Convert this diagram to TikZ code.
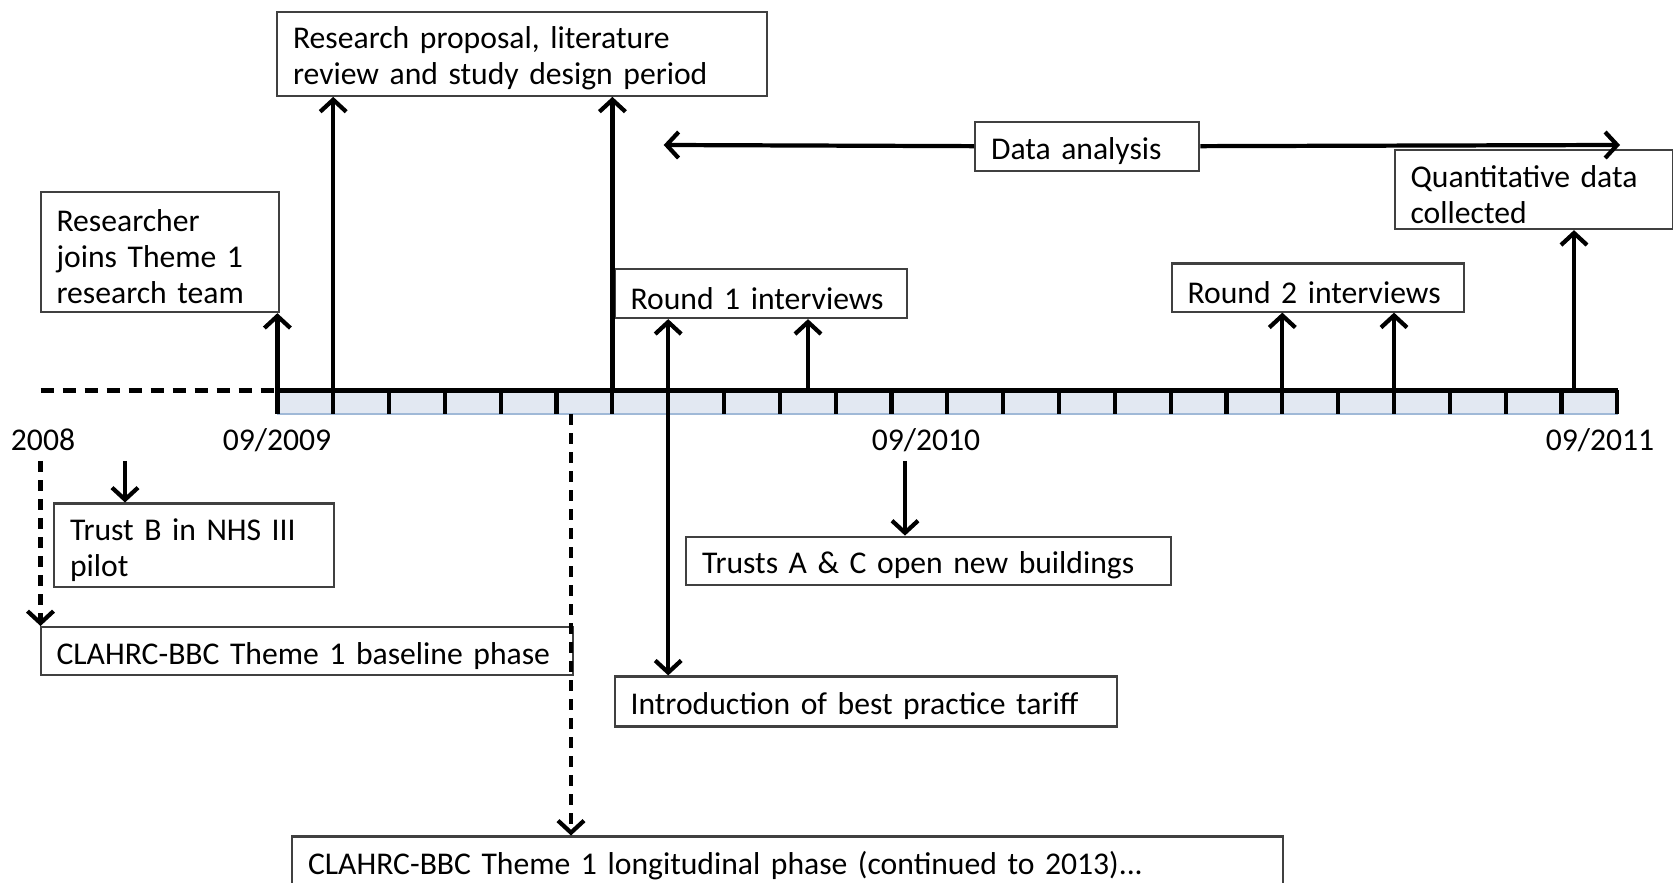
\documentclass[tikz,border=0pt]{standalone}
\usepackage{fontspec}
\setmainfont{Carlito}
\usetikzlibrary{arrows.meta}

\definecolor{axisfill}{RGB}{226,232,242}
\definecolor{axisline}{RGB}{160,185,215}

\begin{document}
\begin{tikzpicture}[x=0.01cm,y=-0.01cm]
        \tikzstyle{every node}+=[inner sep=0pt, font=\fontsize{9}{10.2}\selectfont]
        \tikzstyle{event}=[draw=black!75, line width=0.6pt, anchor=north west, align=left, inner xsep=0.16cm, execute at begin node={\rule{0pt}{9pt}}]
        \tikzstyle{link}=[line width=1.2pt, -{Straight Barb[length=1.2mm,width=2.6mm]}]
        \tikzstyle{twoway}=[line width=1.2pt, {Straight Barb[length=1.2mm,width=2.6mm]}-{Straight Barb[length=1.2mm,width=2.6mm]}]
        \tikzstyle{phase}=[link, dash pattern=on 1.1mm off 0.8mm]
        \clip (0,0) rectangle (1673,883);
        \fill [axisfill] (277.4,390.5) rectangle (1617.6,414);
        \draw [axisline, line width=0.7pt] (277.4,414) -- (1617.6,414);
        \draw [black, line width=1.6pt] (277.4,390.5) -- (1617.6,390.5);
        \draw [black, line width=1.5pt, dash pattern=on 1.3mm off 0.9mm] (40.5,390.5) -- (277.4,390.5);
        \foreach \i in {0,...,24}
            \draw [black, line width=1.2pt] (277.4+\i*55.83,390.5) -- (277.4+\i*55.83,414);
        \node (y2008) at (43,440) {2008};
        \node (y2009) at (277,440) {09/2009};
        \node (y2010) at (926,440) {09/2010};
        \node (y2011) at (1600,440) {09/2011};
        \node [event, text width=4.58cm, minimum height=0.84cm] (proposal) at (276,10.7) {Research proposal, literature\\review and study design period};
        \node [event, text width=2.06cm, minimum height=1.2cm] (researcher) at (39.5,191) {Researcher\\joins Theme 1\\research team};
        \node [event, text width=1.92cm, minimum height=0.49cm] (analysis) at (974,120.6) {Data analysis};
        \node [event, text width=2.46cm, minimum height=0.79cm] (quant) at (1393.5,149) {Quantitative data\\collected};
        \node [event, text width=2.6cm, minimum height=0.49cm] (roundA) at (613.5,268) {Round 1 interviews};
        \node [event, text width=2.6cm, minimum height=0.48cm] (roundB) at (1170.5,262.5) {Round 2 interviews};
        \node [event, text width=2.48cm, minimum height=0.835cm] (trustB) at (53,502.5) {Trust B in NHS III\\pilot};
        \node [event, text width=5cm, minimum height=0.48cm] (baseline) at (39.5,626) {CLAHRC-BBC Theme 1 baseline phase};
        \node [event, text width=4.53cm, minimum height=0.48cm] (trustsAC) at (685,535.6) {Trusts A \& C open new buildings};
        \node [event, text width=4.7cm, minimum height=0.5cm] (tariff) at (613.5,675.4) {Introduction of best practice tariff};
        \node [event, text width=9.58cm, minimum height=0.5cm] (longitudinal) at (291,835.5) {CLAHRC-BBC Theme 1 longitudinal phase (continued to 2013)...};
        \coordinate (t0) at (277.4,390.5);
        \coordinate (t1) at (333.2,390.5);
        \coordinate (t6) at (612.4,390.5);
        \coordinate (t7) at (668.2,390.5);
        \coordinate (t9) at (808,390.5);
        \coordinate (t18) at (1282.3,390.5);
        \coordinate (t20) at (1394,390.5);
        \coordinate (t23) at (1574,390.5);
        \coordinate (d2008) at (40.5,461);
        \coordinate (b2008) at (125,461);
        \coordinate (b2010) at (905,461);
        \coordinate (b2009) at (571,414);
        \coordinate (da0) at (663.7,145);
        \coordinate (da1) at (1620,145);
        \draw [link] (t0) -- (researcher.south -| t0);
        \draw [link] (t1) -- (proposal.south -| t1);
        \draw [link] (t6) -- (proposal.south -| t6);
        \draw [twoway] (roundA.south -| t7) -- (tariff.north -| t7);
        \draw [link] (t9) -- (roundA.south -| t9);
        \draw [link] (t18) -- (roundB.south -| t18);
        \draw [link] (t20) -- (roundB.south -| t20);
        \draw [link] (t23) -- (quant.south -| t23);
        \draw [link] (analysis.west) -- (da0);
        \draw [link] (analysis.east) -- (da1);
        \draw [link] (b2008) -- (trustB.north -| b2008);
        \draw [link] (b2010) -- (trustsAC.north -| b2010);
        \draw [phase] (d2008) -- (baseline.north -| d2008);
        \draw [phase] (b2009) -- (longitudinal.north -| b2009);
\end{tikzpicture}
\end{document}
